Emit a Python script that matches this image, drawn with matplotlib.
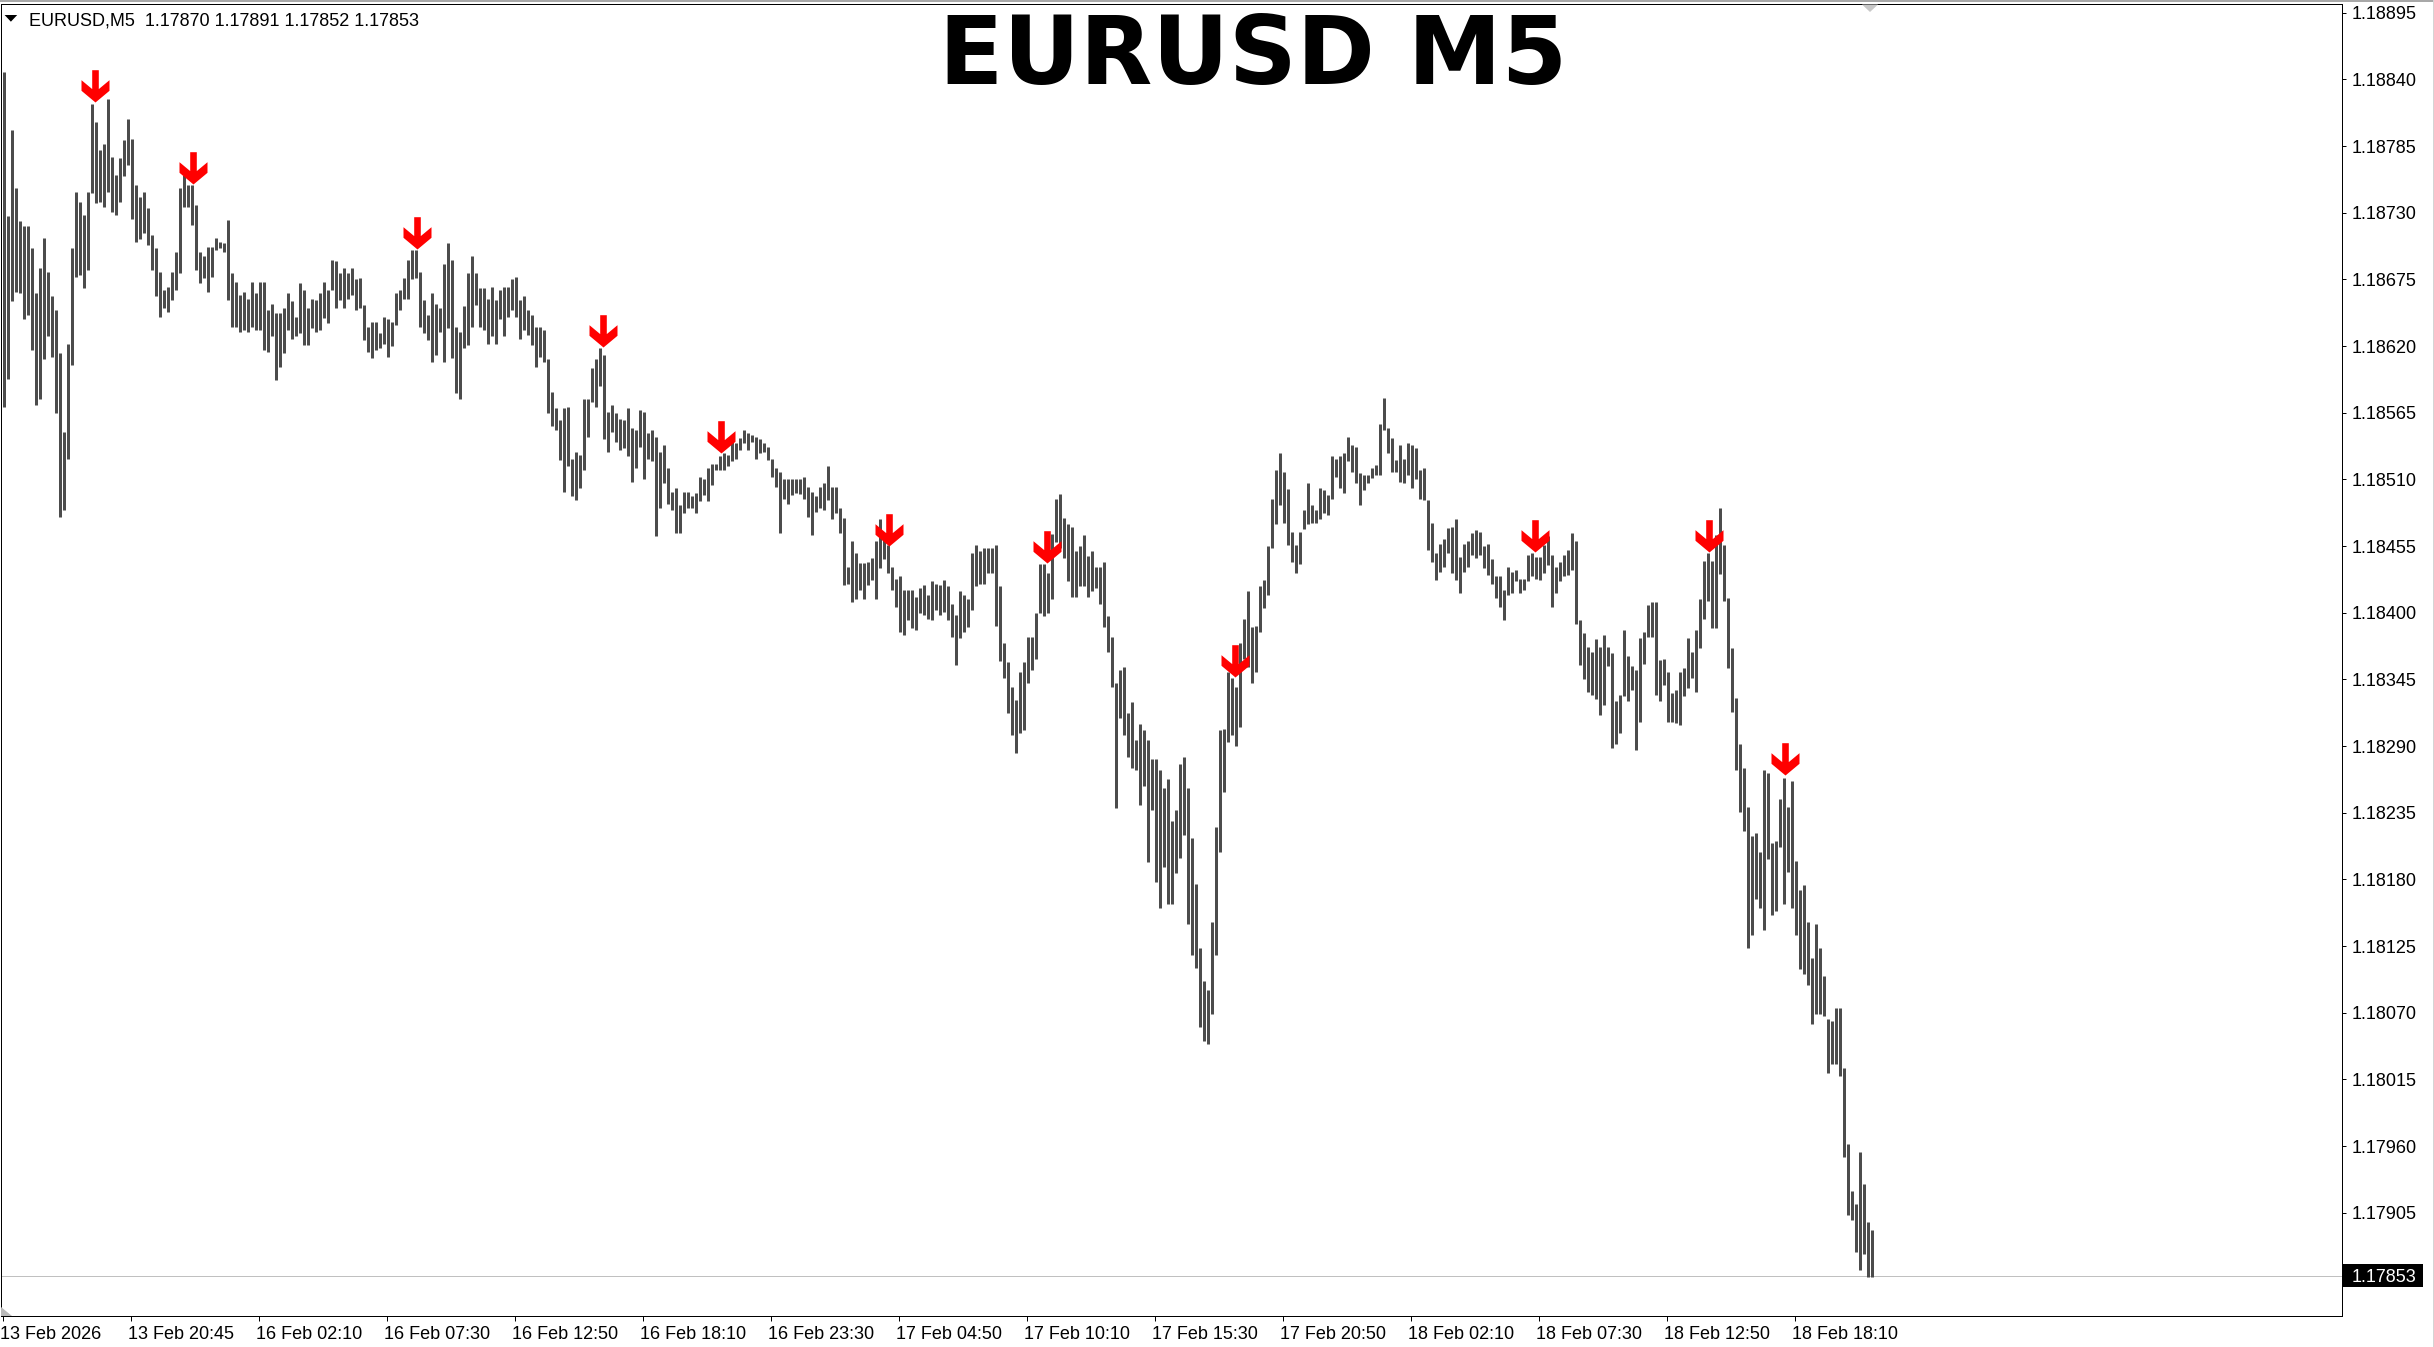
import numpy as np
import matplotlib
matplotlib.use("Agg")
import matplotlib.pyplot as plt
from matplotlib.path import Path
from matplotlib.patches import Rectangle, Polygon
from matplotlib.lines import Line2D
from matplotlib.transforms import blended_transform_factory, ScaledTranslation

W, H, DPI = 2434, 1347, 100

# ---------------- data ----------------
symbol = "EURUSD"
timeframe = "M5"
last_ohlc = [1.17870, 1.17891, 1.17852, 1.17853]

time_labels = ["13 Feb 2026", "13 Feb 20:45", "16 Feb 02:10", "16 Feb 07:30", "16 Feb 12:50",
               "16 Feb 18:10", "16 Feb 23:30", "17 Feb 04:50", "17 Feb 10:10", "17 Feb 15:30",
               "17 Feb 20:50", "18 Feb 02:10", "18 Feb 07:30", "18 Feb 12:50", "18 Feb 18:10"]
time_label_bar = [0, 64, 128, 192, 256, 320, 384, 448, 512, 576, 640, 704, 768, 832, 896]

price_ticks = [1.18895, 1.18840, 1.18785, 1.18730, 1.18675, 1.18620, 1.18565, 1.18510,
               1.18455, 1.18400, 1.18345, 1.18290, 1.18235, 1.18180, 1.18125, 1.18070,
               1.18015, 1.17960, 1.17905]

# high / low of consecutive pairs of M5 bars
pair_high = [
    1.18846, 1.18727, 1.18798, 1.18750, 1.18723, 1.18719, 1.18719, 1.18701, 1.18664, 1.18684,
    1.18709, 1.18681, 1.18661, 1.18650, 1.18614, 1.18549, 1.18622, 1.18701, 1.18747, 1.18739,
    1.18728, 1.18747, 1.18820, 1.18805, 1.18782, 1.18787, 1.18824, 1.18776, 1.18761, 1.18775,
    1.18790, 1.18807, 1.18791, 1.18753, 1.18743, 1.18747, 1.18734, 1.18712, 1.18701, 1.18681,
    1.18666, 1.18669, 1.18681, 1.18698, 1.18750, 1.18761, 1.18753, 1.18753, 1.18736, 1.18698,
    1.18694, 1.18702, 1.18702, 1.18709, 1.18706, 1.18705, 1.18724, 1.18680, 1.18673, 1.18662,
    1.18665, 1.18659, 1.18673, 1.18664, 1.18673, 1.18673, 1.18650, 1.18655, 1.18647, 1.18647,
    1.18651, 1.18664, 1.18657, 1.18644, 1.18672, 1.18666, 1.18651, 1.18659, 1.18658, 1.18664,
    1.18673, 1.18666, 1.18691, 1.18690, 1.18680, 1.18684, 1.18680, 1.18684, 1.18675, 1.18676,
    1.18654, 1.18636, 1.18640, 1.18640, 1.18631, 1.18644, 1.18642, 1.18640, 1.18664, 1.18666,
    1.18676, 1.18691, 1.18699, 1.18699, 1.18681, 1.18658, 1.18646, 1.18664, 1.18655, 1.18651,
    1.18688, 1.18705, 1.18691, 1.18636, 1.18632, 1.18653, 1.18680, 1.18694, 1.18680,
    1.18668, 1.18668, 1.18659, 1.18669, 1.18658, 1.18666, 1.18669, 1.18669, 1.18675, 1.18677,
    1.18658, 1.18661, 1.18650, 1.18646, 1.18636, 1.18636, 1.18633, 1.18609, 1.18582, 1.18569,
    1.18559, 1.18569, 1.18570, 1.18527, 1.18533, 1.18530, 1.18576, 1.18576, 1.18602, 1.18609,
    1.18618, 1.18613, 1.18566, 1.18571, 1.18565, 1.18560, 1.18559, 1.18569, 1.18552, 1.18551,
    1.18567, 1.18566, 1.18548, 1.18551, 1.18545, 1.18533, 1.18538, 1.18519, 1.18500, 1.18503,
    1.18489, 1.18500, 1.18500, 1.18496, 1.18499, 1.18512, 1.18510, 1.18519, 1.18523, 1.18523,
    1.18529, 1.18532, 1.18530, 1.18543, 1.18540, 1.18544, 1.18551, 1.18548, 1.18547, 1.18545,
    1.18543, 1.18540, 1.18537, 1.18527, 1.18519, 1.18516, 1.18510, 1.18510, 1.18510, 1.18510,
    1.18510, 1.18512, 1.18504, 1.18500, 1.18496, 1.18504, 1.18507, 1.18521, 1.18504, 1.18504,
    1.18486, 1.18478, 1.18438, 1.18459, 1.18449, 1.18441, 1.18441, 1.18442, 1.18445, 1.18459,
    1.18477, 1.18460, 1.18456, 1.18438, 1.18428, 1.18430, 1.18419, 1.18419, 1.18419, 1.18413,
    1.18420, 1.18423, 1.18415, 1.18426, 1.18424, 1.18423, 1.18427, 1.18422,
    1.18407, 1.18398, 1.18418, 1.18415, 1.18411, 1.18449, 1.18456, 1.18451, 1.18453, 1.18453,
    1.18453, 1.18456, 1.18422, 1.18375, 1.18359, 1.18339, 1.18328, 1.18351, 1.18359, 1.18380,
    1.18380, 1.18400, 1.18440, 1.18440, 1.18433, 1.18465, 1.18494, 1.18498, 1.18478, 1.18473,
    1.18471, 1.18451, 1.18455, 1.18464, 1.18447, 1.18451, 1.18438, 1.18438, 1.18442, 1.18397,
    1.18380, 1.18342, 1.18353, 1.18355, 1.18317, 1.18326, 1.18295, 1.18308, 1.18303, 1.18295,
    1.18279, 1.18279, 1.18270, 1.18255, 1.18263, 1.18228, 1.18237, 1.18275, 1.18281, 1.18255,
    1.18214, 1.18176, 1.18123, 1.18096, 1.18089, 1.18145, 1.18223, 1.18303, 1.18304, 1.18351,
    1.18346, 1.18339, 1.18375, 1.18395, 1.18418, 1.18388, 1.18389, 1.18422, 1.18427, 1.18455,
    1.18494, 1.18518, 1.18532, 1.18516, 1.18502, 1.18467, 1.18456, 1.18467, 1.18485, 1.18507,
    1.18489, 1.18485,
    1.18503, 1.18501, 1.18497, 1.18529, 1.18527, 1.18529, 1.18532, 1.18545, 1.18538, 1.18537,
    1.18515, 1.18514, 1.18514, 1.18519, 1.18522, 1.18556, 1.18577, 1.18552, 1.18544, 1.18526,
    1.18538, 1.18527, 1.18540, 1.18538, 1.18536, 1.18518, 1.18519, 1.18493, 1.18474, 1.18449,
    1.18457, 1.18461, 1.18470, 1.18471, 1.18477, 1.18446, 1.18457, 1.18459, 1.18466, 1.18468,
    1.18467, 1.18455, 1.18457, 1.18444, 1.18430, 1.18430, 1.18419, 1.18438, 1.18434, 1.18435,
    1.18428, 1.18428, 1.18448, 1.18449, 1.18446, 1.18446, 1.18456, 1.18463, 1.18448, 1.18438,
    1.18442, 1.18448, 1.18452, 1.18466, 1.18459, 1.18394, 1.18383, 1.18372, 1.18368, 1.18378,
    1.18372, 1.18382, 1.18372, 1.18367, 1.18327, 1.18332, 1.18386, 1.18364, 1.18356, 1.18353,
    1.18379, 1.18384, 1.18406, 1.18409, 1.18409, 1.18361, 1.18362, 1.18351, 1.18334, 1.18336,
    1.18351, 1.18354, 1.18379, 1.18368, 1.18386, 1.18411,
    1.18443, 1.18449, 1.18443, 1.18464, 1.18486, 1.18456, 1.18412, 1.18371, 1.18330, 1.18292,
    1.18272, 1.18240, 1.18216, 1.18218, 1.18203, 1.18270, 1.18268, 1.18210, 1.18212, 1.18246,
    1.18264, 1.18240, 1.18261, 1.18195, 1.18171, 1.18175, 1.18145, 1.18115, 1.18143, 1.18123,
    1.18100, 1.18065, 1.18063, 1.18074, 1.18074, 1.18024, 1.17962, 1.17923, 1.17912, 1.17955,
    1.17929, 1.17897, 1.17891,
]

pair_low = [
    1.18570, 1.18593, 1.18657, 1.18665, 1.18664, 1.18642, 1.18646, 1.18617, 1.18571, 1.18576,
    1.18609, 1.18628, 1.18611, 1.18565, 1.18479, 1.18485, 1.18527, 1.18604, 1.18677, 1.18679,
    1.18668, 1.18683, 1.18746, 1.18738, 1.18739, 1.18735, 1.18747, 1.18731, 1.18728, 1.18739,
    1.18760, 1.18769, 1.18725, 1.18706, 1.18708, 1.18713, 1.18703, 1.18683, 1.18661, 1.18644,
    1.18651, 1.18648, 1.18658, 1.18666, 1.18680, 1.18735, 1.18735, 1.18720, 1.18683, 1.18672,
    1.18676, 1.18665, 1.18677, 1.18699, 1.18701, 1.18698, 1.18658, 1.18636, 1.18636, 1.18632,
    1.18633, 1.18632, 1.18636, 1.18633, 1.18633, 1.18617, 1.18615, 1.18628, 1.18592, 1.18603,
    1.18614, 1.18633, 1.18626, 1.18628, 1.18631, 1.18621, 1.18621, 1.18635, 1.18632, 1.18633,
    1.18643, 1.18639, 1.18666, 1.18651, 1.18658, 1.18651, 1.18659, 1.18662, 1.18650, 1.18651,
    1.18625, 1.18615, 1.18610, 1.18617, 1.18618, 1.18622, 1.18611, 1.18620, 1.18637, 1.18650,
    1.18659, 1.18659, 1.18675, 1.18676, 1.18636, 1.18631, 1.18625, 1.18607, 1.18613, 1.18632,
    1.18607, 1.18635, 1.18610, 1.18581, 1.18576, 1.18618, 1.18621, 1.18636, 1.18654,
    1.18636, 1.18633, 1.18622, 1.18628, 1.18622, 1.18642, 1.18628, 1.18644, 1.18650, 1.18644,
    1.18626, 1.18633, 1.18629, 1.18621, 1.18603, 1.18611, 1.18607, 1.18565, 1.18554, 1.18551,
    1.18526, 1.18500, 1.18521, 1.18496, 1.18493, 1.18503, 1.18518, 1.18545, 1.18574, 1.18570,
    1.18587, 1.18543, 1.18533, 1.18549, 1.18541, 1.18534, 1.18536, 1.18529, 1.18508, 1.18519,
    1.18537, 1.18510, 1.18527, 1.18525, 1.18463, 1.18486, 1.18507, 1.18490, 1.18485, 1.18466,
    1.18466, 1.18482, 1.18486, 1.18486, 1.18482, 1.18492, 1.18497, 1.18492, 1.18505, 1.18518,
    1.18518, 1.18518, 1.18521, 1.18525, 1.18527, 1.18534, 1.18540, 1.18534, 1.18541, 1.18527,
    1.18532, 1.18533, 1.18526, 1.18512, 1.18504, 1.18466, 1.18494, 1.18490, 1.18497, 1.18499,
    1.18498, 1.18494, 1.18479, 1.18464, 1.18483, 1.18486, 1.18485, 1.18493, 1.18477, 1.18482,
    1.18466, 1.18423, 1.18424, 1.18409, 1.18411, 1.18419, 1.18411, 1.18423, 1.18427, 1.18411,
    1.18437, 1.18444, 1.18433, 1.18419, 1.18405, 1.18384, 1.18382, 1.18394, 1.18387, 1.18386,
    1.18400, 1.18398, 1.18395, 1.18394, 1.18402, 1.18398, 1.18401, 1.18394,
    1.18380, 1.18357, 1.18379, 1.18384, 1.18388, 1.18402, 1.18422, 1.18424, 1.18424, 1.18433,
    1.18433, 1.18389, 1.18360, 1.18346, 1.18317, 1.18299, 1.18284, 1.18301, 1.18303, 1.18342,
    1.18353, 1.18362, 1.18400, 1.18397, 1.18400, 1.18411, 1.18458, 1.18453, 1.18445, 1.18426,
    1.18413, 1.18413, 1.18422, 1.18422, 1.18413, 1.18418, 1.18420, 1.18407, 1.18388, 1.18368,
    1.18339, 1.18239, 1.18313, 1.18299, 1.18281, 1.18272, 1.18270, 1.18241, 1.18257, 1.18194,
    1.18237, 1.18178, 1.18156, 1.18190, 1.18160, 1.18160, 1.18185, 1.18198, 1.18217, 1.18143,
    1.18118, 1.18107, 1.18058, 1.18047, 1.18044, 1.18069, 1.18118, 1.18203, 1.18252, 1.18293,
    1.18299, 1.18290, 1.18306, 1.18362, 1.18355, 1.18342, 1.18351, 1.18384, 1.18404, 1.18415,
    1.18453, 1.18473, 1.18489, 1.18474, 1.18456, 1.18442, 1.18433, 1.18440, 1.18469, 1.18473,
    1.18474, 1.18474,
    1.18477, 1.18482, 1.18481, 1.18494, 1.18512, 1.18503, 1.18499, 1.18525, 1.18516, 1.18507,
    1.18489, 1.18501, 1.18507, 1.18511, 1.18514, 1.18514, 1.18551, 1.18532, 1.18516, 1.18516,
    1.18508, 1.18507, 1.18514, 1.18503, 1.18510, 1.18494, 1.18493, 1.18452, 1.18442, 1.18427,
    1.18434, 1.18438, 1.18449, 1.18433, 1.18427, 1.18416, 1.18434, 1.18438, 1.18448, 1.18445,
    1.18448, 1.18437, 1.18431, 1.18424, 1.18412, 1.18405, 1.18394, 1.18415, 1.18416, 1.18426,
    1.18416, 1.18419, 1.18426, 1.18430, 1.18428, 1.18427, 1.18433, 1.18439, 1.18405, 1.18416,
    1.18426, 1.18430, 1.18431, 1.18435, 1.18391, 1.18357, 1.18345, 1.18335, 1.18332, 1.18329,
    1.18316, 1.18324, 1.18356, 1.18288, 1.18292, 1.18301, 1.18331, 1.18327, 1.18336, 1.18287,
    1.18310, 1.18358, 1.18380, 1.18380, 1.18332, 1.18327, 1.18340, 1.18310, 1.18310, 1.18309,
    1.18307, 1.18331, 1.18338, 1.18346, 1.18335, 1.18371,
    1.18395, 1.18410, 1.18387, 1.18387, 1.18432, 1.18410, 1.18354, 1.18318, 1.18270, 1.18236,
    1.18220, 1.18123, 1.18134, 1.18164, 1.18156, 1.18138, 1.18197, 1.18151, 1.18154, 1.18207,
    1.18160, 1.18186, 1.18156, 1.18134, 1.18106, 1.18102, 1.18093, 1.18061, 1.18069, 1.18069,
    1.18067, 1.18020, 1.18028, 1.18028, 1.18018, 1.17951, 1.17903, 1.17899, 1.17873, 1.17858,
    1.17871, 1.17852, 1.17852,
]

# red down-arrow signals: bar index and price at the arrow tip
arrow_bar = [46, 95, 207, 300, 359, 443, 522, 616, 766, 853, 891]
arrow_price = [1.18821, 1.18754, 1.18700, 1.18619, 1.18532, 1.18455, 1.18441,
               1.18347, 1.18450, 1.18450, 1.18266]

# ---------------- figure ----------------
plt.rcParams["font.family"] = ["Liberation Sans", "DejaVu Sans"]


def fx(px):
    return px / W


def fy(py):
    return 1 - py / H


fig = plt.figure(figsize=(W / DPI, H / DPI), dpi=DPI, facecolor="white")
ax_left, ax_right, ax_top, ax_bottom = 0.5, 2341.7, 4.0, 1316.0
ax = fig.add_axes([fx(ax_left), fy(ax_bottom), (ax_right - ax_left) / W, (ax_bottom - ax_top) / H])
ax.set_facecolor("white")

ymin, ymax = 1.178198, 1.189022
ax.set_ylim(ymin, ymax)
ax.set_xlim(-1.0, 1169.6)

# bars (each vertical stroke covers a pair of M5 bars)
ph = np.array(pair_high)
pl = np.array(pair_low)
xpair = np.arange(len(ph)) * 2 + 0.5
ax.vlines(xpair, pl, ph, colors="#4c4c4c", linewidth=3 * 72 / DPI, zorder=2)

# current price line
last_close = last_ohlc[3]
ax.axhline(last_close, color="#c0c0c0", linewidth=0.72, zorder=1)

# arrows
arrow_verts = [(0, 0), (14, 11.7), (14, 22.3), (3.3, 13.4), (3.3, 32.3),
               (-3.3, 32.3), (-3.3, 13.4), (-14, 22.3), (-14, 11.7), (0, 0)]
arrow_codes = [Path.MOVETO] + [Path.LINETO] * 8 + [Path.CLOSEPOLY]
arrow_path = Path(arrow_verts, arrow_codes)
ax.plot(arrow_bar, arrow_price, linestyle="none", marker=arrow_path,
        markersize=2 * 32.3 * 72 / DPI, color="#ff0000", markeredgewidth=0, zorder=4)

# spines
for s in ax.spines.values():
    s.set_color("black")
    s.set_linewidth(0.72)

# y axis on right
ax.yaxis.tick_right()
ax.set_yticks(price_ticks)
ax.set_yticklabels([f"{p:.5f}" for p in price_ticks])
ax.tick_params(axis="y", direction="out", length=4 * 0.72, width=0.72, pad=4.3,
               labelsize=13, colors="black", right=True, left=False,
               labelright=True, labelleft=False)

# x axis
ax.set_xticks(time_label_bar)
ax.set_xticklabels(time_labels, ha="left")
ax.tick_params(axis="x", direction="out", length=5 * 0.72, width=0.72, pad=3.6,
               labelsize=13, colors="black")
offset = ScaledTranslation(-2 / DPI, 0, fig.dpi_scale_trans)
for lab in ax.get_xticklabels():
    lab.set_transform(lab.get_transform() + offset)

# current price label box
blend = blended_transform_factory(fig.transFigure, ax.transData)
pp = (ymax - ymin) / (ax_bottom - ax_top)
ax.add_patch(Rectangle((fx(2343), last_close - 11.5 * pp), 80 / W, 23 * pp,
                       transform=blend, facecolor="black", edgecolor="none",
                       clip_on=False, zorder=6))
ax.text(fx(2352), last_close, f"{last_close:.5f}", transform=blend, color="white",
        ha="left", va="center_baseline", fontsize=13, clip_on=False, zorder=7)

# header text and triangle
fig.text(fx(28.7), fy(25.8), f"{symbol},{timeframe}  " + " ".join(f"{v:.5f}" for v in last_ohlc),
         ha="left", va="baseline", fontsize=13, color="black")
fig.add_artist(Polygon([(fx(4.6), fy(15)), (fx(17.2), fy(15)), (fx(10.9), fy(21.7))],
                       closed=True, transform=fig.transFigure, facecolor="black",
                       edgecolor="none"))

# big title
fig.text(fx(1253.5), fy(84), f"{symbol} {timeframe}", ha="center", va="baseline",
         fontsize=67.9, fontweight="bold", family="DejaVu Sans", color="black")

# window decorations
fig.add_artist(Line2D([0, 1], [fy(1), fy(1)], transform=fig.transFigure,
                      color="#a8a8a8", linewidth=1.44))
fig.add_artist(Line2D([fx(2433), fx(2433)], [0, 1], transform=fig.transFigure,
                      color="#d4d4d4", linewidth=0.72))
fig.add_artist(Polygon([(fx(1862), fy(4.5)), (fx(1878), fy(4.5)), (fx(1870), fy(12))],
                       closed=True, transform=fig.transFigure, facecolor="#c8c8c8",
                       edgecolor="none"))
fig.add_artist(Polygon([(fx(1), fy(1306.7)), (fx(1), fy(1316)), (fx(11.5), fy(1316))],
                       closed=True, transform=fig.transFigure, facecolor="#b8b8b8",
                       edgecolor="none"))

fig.savefig("out.png", dpi=DPI, facecolor="white")
